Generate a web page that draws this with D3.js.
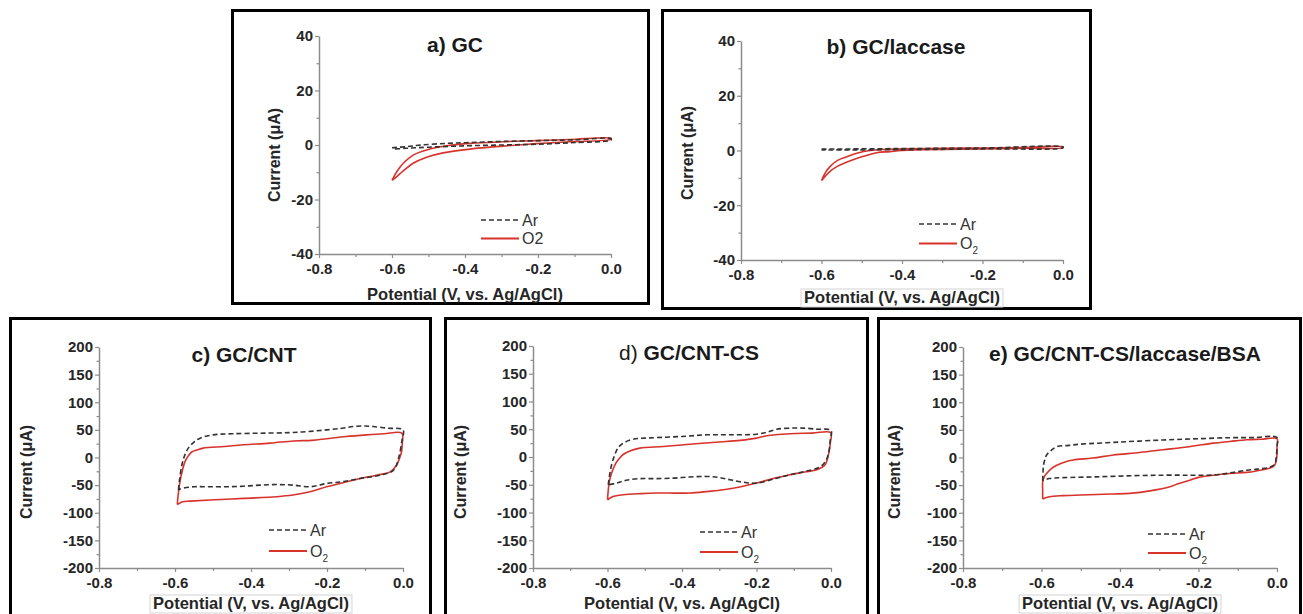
<!DOCTYPE html>
<html><head><meta charset="utf-8">
<script src="https://cdn.jsdelivr.net/npm/d3@7"></script>
<style>body{margin:0;background:#fff}svg{display:block}</style>
</head><body>
<svg id="c" width="1303" height="614"></svg>
<script>
// ---------- data ----------
const xTicks = [-0.8, -0.6, -0.4, -0.2, 0.0];
const xMinor = [-0.7, -0.5, -0.3, -0.1];
const yTicksSmall = [-40, -20, 0, 20, 40];
const yMinorSmall = [-30, -10, 10, 30];
const yTicksLarge = [-200, -150, -100, -50, 0, 50, 100, 150, 200];
const yMinorLarge = [-175, -125, -75, -25, 25, 75, 125, 175];
const titles = ["a) GC", "b) GC/laccase", "c) GC/CNT", "d) GC/CNT-CS", "e) GC/CNT-CS/laccase/BSA"];
const seriesNames = ["Ar", "O2"];
const xTitle = "Potential (V, vs. Ag/AgCl)";
const yTitle = "Current (\u03bcA)";

// [potential V, current uA] loops
const gcAr = [[-0.6,-1.0],[-0.56,-0.6],[-0.52,0],[-0.45,0.6],[-0.386,0.9],[-0.3,1.3],[-0.2,1.6],[-0.1,1.9],[0,2.3],
  [0,1.8],[-0.1,0.9],[-0.2,0.3],[-0.3,0],[-0.4,-0.3],[-0.5,-0.8],[-0.56,-1.2],[-0.6,-1.5]];
const gcO2 = [[-0.6,-13],[-0.587,-9.8],[-0.569,-6.7],[-0.542,-3.7],[-0.505,-1.8],[-0.45,-0.3],[-0.386,0.6],[-0.296,1.2],[-0.204,1.6],[-0.112,2.0],[0,2.5],
  [0,2.1],[-0.112,1.2],[-0.204,0.5],[-0.296,-0.4],[-0.386,-1.5],[-0.46,-2.9],[-0.505,-4.5],[-0.542,-6.7],[-0.569,-9.5],[-0.587,-11.6],[-0.6,-13]];

const lacAr = [[-0.6,0.5],[-0.5,0.6],[-0.4,0.7],[-0.2,0.9],[0,1.3],[0,1.0],[-0.2,0.6],[-0.4,0.3],[-0.6,0.2]];
const lacO2 = [[-0.6,-11],[-0.59,-8],[-0.579,-5.9],[-0.56,-3.6],[-0.537,-2.3],[-0.51,-0.9],[-0.479,0],[-0.44,0.4],[-0.4,0.6],[-0.3,0.8],[-0.2,0.9],[-0.1,1.1],[0,1.3],
  [0,1.0],[-0.1,0.8],[-0.2,0.6],[-0.3,0.4],[-0.4,0],[-0.43,-0.4],[-0.463,-0.8],[-0.49,-1.9],[-0.513,-2.9],[-0.54,-4.4],[-0.562,-5.9],[-0.58,-7.8],[-0.6,-11]];

const cntAr = [[-0.591,-59],[-0.588,-40],[-0.582,-14],[-0.575,3],[-0.565,17],[-0.55,28],[-0.534,35],[-0.5,41],[-0.45,43],[-0.376,44],[-0.3,45],[-0.25,47],[-0.201,50],[-0.16,53],[-0.131,56],[-0.1,57],[-0.078,56],[-0.04,53],[0,50],
  [-0.003,30],[-0.012,-2],[-0.025,-23],[-0.06,-32],[-0.113,-38],[-0.16,-44],[-0.201,-47],[-0.245,-53],[-0.288,-50],[-0.33,-49],[-0.376,-50],[-0.42,-52],[-0.464,-53],[-0.51,-53],[-0.552,-53],[-0.587,-57],[-0.591,-59]];
const cntO2 = [[-0.594,-85],[-0.592,-70],[-0.587,-44],[-0.581,-25],[-0.574,-8],[-0.565,3],[-0.556,10],[-0.54,14],[-0.526,17],[-0.47,20],[-0.42,23],[-0.35,26],[-0.288,30],[-0.24,31],[-0.201,34],[-0.15,38],[-0.096,41],[-0.05,43],[-0.003,44],
  [-0.002,25],[-0.004,10],[-0.01,-3],[-0.017,-14],[-0.034,-26],[-0.07,-32],[-0.113,-38],[-0.16,-46],[-0.201,-53],[-0.245,-62],[-0.29,-68],[-0.332,-71],[-0.42,-74],[-0.508,-77],[-0.56,-79],[-0.58,-80],[-0.594,-85]];

const csAr = [[-0.598,-50],[-0.595,-35],[-0.589,-14],[-0.581,3],[-0.571,17],[-0.555,26],[-0.531,32],[-0.5,34],[-0.468,35],[-0.4,37],[-0.334,40],[-0.27,40],[-0.2,41],[-0.17,45],[-0.146,50],[-0.11,52],[-0.074,52],[-0.035,50],[0,48],
  [-0.002,30],[-0.007,5],[-0.015,-8],[-0.03,-18],[-0.07,-26],[-0.11,-32],[-0.15,-39],[-0.2,-47],[-0.24,-45],[-0.271,-41],[-0.3,-37],[-0.334,-35],[-0.38,-36],[-0.423,-38],[-0.47,-39],[-0.513,-39],[-0.55,-42],[-0.575,-47],[-0.598,-50]];
const csO2 = [[-0.6,-77],[-0.598,-60],[-0.595,-44],[-0.588,-27],[-0.58,-14],[-0.57,-4],[-0.558,4.5],[-0.54,11],[-0.513,16],[-0.45,19],[-0.379,23],[-0.3,27],[-0.244,30],[-0.2,34],[-0.182,37],[-0.15,40],[-0.11,42],[-0.05,43],[-0.001,44],
  [-0.002,25],[-0.005,10],[-0.016,-14],[-0.038,-23],[-0.07,-27],[-0.11,-32],[-0.15,-38],[-0.2,-47],[-0.245,-54],[-0.289,-59],[-0.33,-62],[-0.379,-65],[-0.42,-65],[-0.468,-65],[-0.51,-66],[-0.558,-68],[-0.585,-71],[-0.6,-77]];

const bsaAr = [[-0.597,-42],[-0.596,-25],[-0.595,-14],[-0.591,-3],[-0.587,4.5],[-0.575,13],[-0.561,19.6],[-0.53,22],[-0.502,24],[-0.4,28],[-0.29,31.7],[-0.2,34],[-0.12,35.8],[-0.06,36],[0,36],
  [0,20],[-0.002,0],[-0.006,-12],[-0.02,-18],[-0.05,-21],[-0.077,-23],[-0.12,-28],[-0.162,-31.7],[-0.22,-32],[-0.29,-32],[-0.37,-33],[-0.459,-35],[-0.544,-36.5],[-0.58,-38],[-0.597,-42]];
const bsaO2 = [[-0.597,-75],[-0.597,-60],[-0.597,-44],[-0.593,-35],[-0.587,-29],[-0.575,-20],[-0.561,-14],[-0.54,-8],[-0.519,-4.5],[-0.47,-1],[-0.417,4.5],[-0.35,9],[-0.29,14],[-0.22,20],[-0.162,26],[-0.12,29],[-0.077,32],[-0.04,33],[0.0,34],
  [0.0,20],[0.0,4.5],[-0.006,-14],[-0.022,-20],[-0.05,-24],[-0.077,-27],[-0.12,-29],[-0.162,-32],[-0.2,-36],[-0.222,-41],[-0.25,-47],[-0.273,-53],[-0.32,-60],[-0.375,-65],[-0.42,-66],[-0.459,-67],[-0.5,-68],[-0.544,-69],[-0.58,-71],[-0.597,-75]];

// ---------- layout ----------
const panels = [
  {title:titles[0], ar:gcAr,  o2:gcO2,  yt:yTicksSmall, ym:yMinorSmall, x0:319, x1:611,  yT:36,  yB:254,
   border:[232.5,10.5,416,293], tx:455, ty:52, lx:481, ly:220, ldy:18.5, sub:false, ylx:274, yly:155, xly:300, box:false},
  {title:titles[1], ar:lacAr, o2:lacO2, yt:yTicksSmall, ym:yMinorSmall, x0:741, x1:1063, yT:41,  yB:260,
   border:[662.5,10.5,428,298], tx:896, ty:54, lx:919, ly:224, ldy:19.5, sub:true, ylx:687, yly:153, xly:303, box:true},
  {title:titles[2], ar:cntAr, o2:cntO2, yt:yTicksLarge, ym:yMinorLarge, x0:99,  x1:403,  yT:347, yB:568,
   border:[10.5,318.5,420,310], tx:244, ty:362, lx:269, ly:530, ldy:21, sub:true, ylx:26, yly:472, xly:609, box:true},
  {title:titles[3], ar:csAr,  o2:csO2,  yt:yTicksLarge, ym:yMinorLarge, x0:533, x1:831,  yT:346, yB:568,
   border:[445.5,318.5,422,310], tx:689, ty:360, lx:700, ly:532, ldy:20, sub:true, ylx:460, yly:472, xly:609, box:false, lightPrefix:true},
  {title:titles[4], ar:bsaAr, o2:bsaO2, yt:yTicksLarge, ym:yMinorLarge, x0:963, x1:1277, yT:347, yB:568,
   border:[878.5,318.5,422,310], tx:1125, ty:361, lx:1148, ly:534, ldy:19, sub:true, ylx:894, yly:472, xly:609, box:true}
];

const FONT = "'Liberation Sans', Arial, Helvetica, sans-serif";
const RED = "#d8322c";
const AXIS = "#8c8c8c";
const svg = d3.select("#c");

panels.forEach(p => {
  const g = svg.append("g");
  const x = d3.scaleLinear().domain([xTicks[0], xTicks[xTicks.length-1]]).range([p.x0, p.x1]);
  const y = d3.scaleLinear().domain([p.yt[0], p.yt[p.yt.length-1]]).range([p.yB, p.yT]);

  // panel frame
  g.append("rect").attr("x", p.border[0]).attr("y", p.border[1]).attr("width", p.border[2]).attr("height", p.border[3])
    .attr("fill", "none").attr("stroke", "#000").attr("stroke-width", 3);

  // minor ticks
  g.append("g").attr("transform", `translate(0,${p.yB})`)
    .call(d3.axisBottom(x).tickValues(xMinor).tickSize(3).tickSizeOuter(0).tickFormat(""))
    .call(s => s.select(".domain").remove());
  g.append("g").attr("transform", `translate(${p.x0},0)`)
    .call(d3.axisLeft(y).tickValues(p.ym).tickSize(2.5).tickSizeOuter(0).tickFormat(""))
    .call(s => s.select(".domain").remove());

  // major axes
  const xa = g.append("g").attr("transform", `translate(0,${p.yB})`)
    .call(d3.axisBottom(x).tickValues(xTicks).tickSize(4).tickSizeOuter(0).tickPadding(5).tickFormat(d => d.toFixed(1)));
  const ya = g.append("g").attr("transform", `translate(${p.x0},0)`)
    .call(d3.axisLeft(y).tickValues(p.yt).tickSize(4).tickSizeOuter(0).tickPadding(2).tickFormat(d => String(d)));
  [xa, ya].forEach(a => {
    a.selectAll("path.domain").attr("stroke", AXIS).attr("stroke-width", 1.5);
    a.selectAll(".tick text").attr("fill", "#262626").attr("font-family", FONT).attr("font-weight", "bold").attr("font-size", 15);
  });
  g.selectAll(".tick line").attr("stroke", AXIS).attr("stroke-width", 1.2);

  // curves
  const line = d3.line().x(d => x(d[0])).y(d => y(d[1])).curve(d3.curveCatmullRom.alpha(0.5));
  g.append("path").attr("d", line(p.o2)).attr("fill", "none").attr("stroke", RED).attr("stroke-width", 1.6);
  g.append("path").attr("d", line(p.ar)).attr("fill", "none").attr("stroke", "#333").attr("stroke-width", 1.6)
    .attr("stroke-dasharray", "5,3");

  // title
  const t = g.append("text").attr("x", p.tx).attr("y", p.ty).attr("text-anchor", "middle")
    .attr("font-family", FONT).attr("font-size", 21).attr("font-weight", "bold").attr("fill", "#1a1a1a");
  if (p.lightPrefix) {
    const parts = p.title.split(" ");
    t.append("tspan").attr("font-weight", "normal").text(parts[0] + " ");
    t.append("tspan").text(parts.slice(1).join(" "));
  } else t.text(p.title);

  // axis titles
  const xl = g.append("text").attr("x", (p.x0 + p.x1) / 2).attr("y", p.xly).attr("text-anchor", "middle")
    .attr("font-family", FONT).attr("font-size", 16.5).attr("font-weight", "bold").attr("fill", "#262626").text(xTitle);
  if (p.box) {
    const bb = xl.node().getBBox();
    g.append("rect").attr("x", bb.x - 3).attr("y", bb.y + 1).attr("width", bb.width + 6).attr("height", bb.height)
      .attr("fill", "none").attr("stroke", "#d4d4d4").attr("stroke-width", 1);
  }
  g.append("text").attr("transform", `translate(${p.ylx},${p.yly}) rotate(-90)`).attr("text-anchor", "middle")
    .attr("dy", "0.35em").attr("font-family", FONT).attr("font-size", 16).attr("font-weight", "bold").attr("fill", "#262626").text(yTitle);

  // legend
  const L = 38;
  g.append("line").attr("x1", p.lx).attr("x2", p.lx + L).attr("y1", p.ly).attr("y2", p.ly)
    .attr("stroke", "#333").attr("stroke-width", 1.6).attr("stroke-dasharray", "5,3");
  g.append("line").attr("x1", p.lx).attr("x2", p.lx + L).attr("y1", p.ly + p.ldy).attr("y2", p.ly + p.ldy)
    .attr("stroke", RED).attr("stroke-width", 2);
  g.append("text").attr("x", p.lx + L + 3).attr("y", p.ly).attr("dy", "0.36em")
    .attr("font-family", FONT).attr("font-size", 16).attr("fill", "#333").text(seriesNames[0]);
  const o = g.append("text").attr("x", p.lx + L + 3).attr("y", p.ly + p.ldy).attr("dy", "0.36em")
    .attr("font-family", FONT).attr("font-size", 16).attr("fill", "#333");
  if (p.sub) {
    o.append("tspan").text(seriesNames[1].slice(0, 1));
    o.append("tspan").attr("font-size", 10).attr("dy", "5").text(seriesNames[1].slice(1));
  } else o.text(seriesNames[1]);
});
</script>
</body></html>
